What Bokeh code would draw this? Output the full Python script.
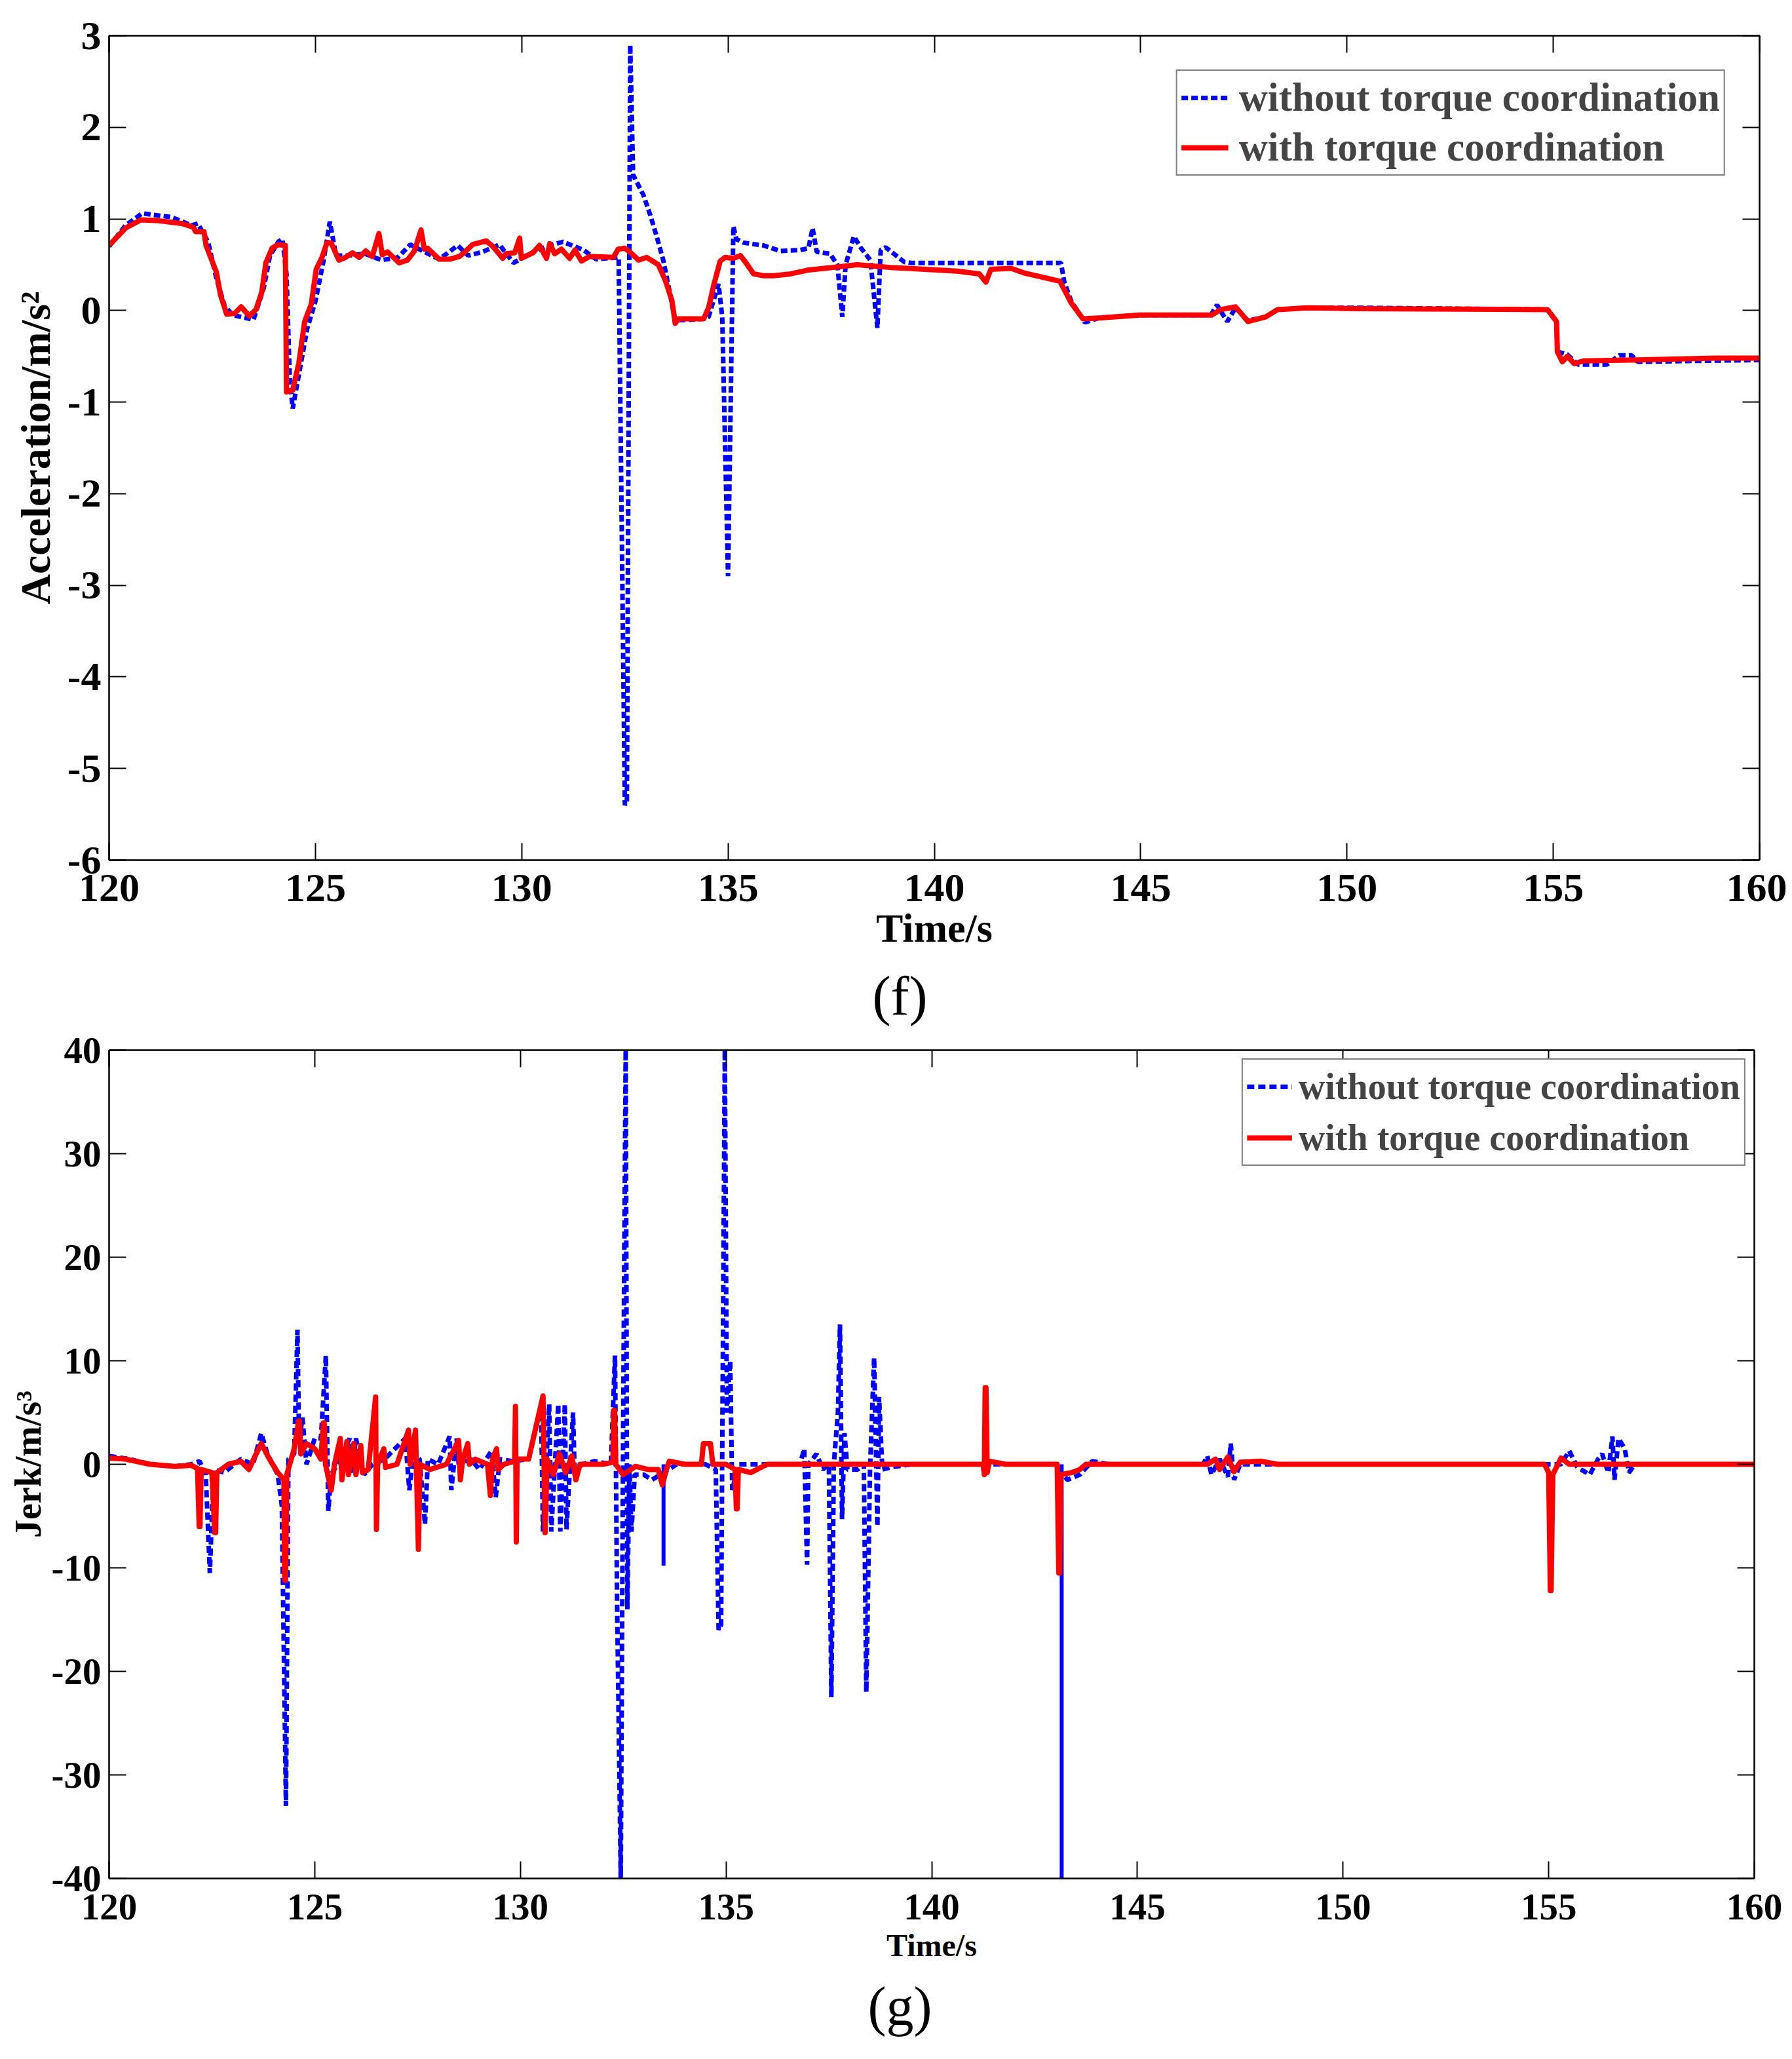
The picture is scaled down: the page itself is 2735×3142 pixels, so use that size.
from bokeh.plotting import figure
from bokeh.models import Range1d, FixedTicker, LinearAxis, CustomJSTickFormatter, Div, Legend
from bokeh.layouts import column
from bokeh.embed import file_html
from bokeh.resources import INLINE

# ---------------- data ----------------
x_ticks = [120, 125, 130, 135, 140, 145, 150, 155, 160]
acc_ticks = [-6, -5, -4, -3, -2, -1, 0, 1, 2, 3]
jerk_ticks = [-40, -30, -20, -10, 0, 10, 20, 30, 40]

series_names = ["without torque coordination", "with torque coordination"]

# acceleration, with torque coordination
acc_red_t = [120.0, 120.4, 120.77, 121.2, 121.76, 122.04, 122.1, 122.3, 122.35, 122.6, 122.7, 122.85, 123.05, 123.2, 123.4, 123.56, 123.7, 123.8, 123.95, 124.1, 124.27, 124.3, 124.45, 124.6, 124.74, 124.9, 125.02, 125.16, 125.28, 125.38, 125.57, 125.73, 125.9, 126.06, 126.22, 126.38, 126.54, 126.62, 126.75, 127.03, 127.23, 127.4, 127.56, 127.64, 127.72, 128.0, 128.25, 128.49, 128.65, 128.81, 129.14, 129.3, 129.54, 129.62, 129.83, 129.95, 129.99, 130.27, 130.43, 130.6, 130.68, 130.8, 130.96, 131.16, 131.29, 131.45, 131.65, 132.22, 132.34, 132.5, 132.67, 132.83, 133.03, 133.31, 133.48, 133.64, 133.72, 133.8, 134.41, 134.53, 134.65, 134.81, 134.93, 135.13, 135.3, 135.42, 135.62, 135.86, 136.11, 136.52, 136.92, 137.33, 138.13, 138.94, 139.35, 140.56, 141.09, 141.25, 141.37, 141.86, 142.18, 142.75, 143.04, 143.16, 143.32, 143.6, 144.05, 144.98, 146.72, 146.94, 147.3, 147.6, 148.03, 148.32, 149.05, 150.21, 154.86, 155.08, 155.1, 155.22, 155.34, 155.51, 155.73, 157.04, 158.93, 160.0]
acc_red_v = [0.71, 0.90, 0.99, 0.98, 0.95, 0.91, 0.86, 0.86, 0.71, 0.42, 0.17, -0.04, -0.03, 0.04, -0.06, 0.01, 0.2, 0.52, 0.68, 0.72, 0.71, -0.89, -0.87, -0.57, -0.12, 0.07, 0.45, 0.58, 0.74, 0.74, 0.55, 0.58, 0.63, 0.58, 0.65, 0.59, 0.84, 0.61, 0.64, 0.52, 0.55, 0.65, 0.88, 0.67, 0.68, 0.56, 0.56, 0.59, 0.65, 0.72, 0.76, 0.70, 0.57, 0.62, 0.63, 0.79, 0.57, 0.63, 0.71, 0.57, 0.73, 0.62, 0.67, 0.57, 0.66, 0.54, 0.59, 0.58, 0.67, 0.68, 0.62, 0.55, 0.58, 0.50, 0.33, 0.11, -0.14, -0.09, -0.09, 0.03, 0.27, 0.54, 0.58, 0.57, 0.60, 0.53, 0.40, 0.38, 0.38, 0.40, 0.44, 0.46, 0.50, 0.47, 0.46, 0.43, 0.40, 0.31, 0.45, 0.46, 0.41, 0.35, 0.32, 0.22, 0.08, -0.09, -0.08, -0.05, -0.05, 0.01, 0.04, -0.12, -0.07, 0.01, 0.03, 0.02, 0.01, -0.12, -0.45, -0.56, -0.50, -0.58, -0.55, -0.54, -0.52, -0.52]

# acceleration, without torque coordination
acc_blue_t = [120.0, 120.4, 120.8, 121.5, 122.0, 122.15, 122.4, 122.6, 122.8, 123.0, 123.3, 123.5, 123.75, 123.9, 124.1, 124.2, 124.3, 124.38, 124.45, 124.6, 124.8, 125.0, 125.2, 125.35, 125.5, 125.8, 126.2, 126.6, 127.0, 127.3, 127.6, 128.0, 128.45, 128.7, 129.05, 129.46, 129.8, 130.2, 130.6, 131.0, 131.5, 131.8, 132.35, 132.5, 132.55, 132.63, 132.7, 132.95, 133.11, 133.27, 133.43, 133.6, 133.72, 134.41, 134.53, 134.69, 134.77, 134.86, 135.0, 135.13, 135.2, 135.38, 135.86, 136.27, 136.75, 136.95, 137.05, 137.15, 137.47, 137.65, 137.77, 137.85, 138.05, 138.21, 138.45, 138.62, 138.7, 138.82, 139.27, 139.43, 143.07, 143.15, 143.32, 143.65, 144.0, 145.0, 146.7, 146.85, 147.1, 147.3, 147.6, 148.03, 148.32, 149.05, 150.3, 154.86, 155.08, 155.1, 155.34, 155.6, 156.3, 156.6, 156.9, 157.05, 160.0]
acc_blue_v = [0.70, 0.93, 1.06, 1.02, 0.93, 0.95, 0.75, 0.35, 0.05, -0.05, -0.08, -0.10, 0.25, 0.60, 0.75, 0.78, 0.40, -0.75, -1.07, -0.70, -0.20, 0.10, 0.55, 0.97, 0.60, 0.60, 0.62, 0.55, 0.58, 0.72, 0.65, 0.56, 0.71, 0.60, 0.64, 0.72, 0.52, 0.62, 0.70, 0.75, 0.66, 0.56, 0.58, -5.40, -5.35, 2.90, 1.48, 1.26, 1.05, 0.81, 0.55, 0.17, -0.11, -0.09, -0.07, 0.17, 0.29, -0.07, -2.90, 0.92, 0.78, 0.74, 0.71, 0.65, 0.66, 0.68, 0.90, 0.64, 0.62, 0.50, -0.07, 0.50, 0.81, 0.69, 0.55, -0.19, 0.66, 0.69, 0.53, 0.52, 0.52, 0.31, 0.10, -0.13, -0.08, -0.05, -0.05, 0.06, -0.12, 0.03, -0.11, -0.07, 0.01, 0.03, 0.03, 0.01, -0.12, -0.45, -0.48, -0.59, -0.59, -0.49, -0.49, -0.56, -0.54]

# jerk, with torque coordination
jerk_red_t = [120.0, 120.4, 121.0, 121.6, 122.0, 122.15, 122.19, 122.21, 122.24, 122.5, 122.57, 122.59, 122.62, 122.9, 123.2, 123.4, 123.55, 123.7, 123.9, 124.1, 124.25, 124.27, 124.29, 124.32, 124.5, 124.61, 124.63, 124.66, 124.8, 125.0, 125.15, 125.21, 125.23, 125.26, 125.4, 125.48, 125.62, 125.66, 125.78, 125.82, 125.95, 126.0, 126.12, 126.16, 126.3, 126.48, 126.5, 126.53, 126.68, 126.72, 127.0, 127.28, 127.32, 127.45, 127.52, 127.56, 127.8, 128.2, 128.5, 128.54, 128.6, 128.72, 128.76, 128.9, 129.2, 129.27, 129.32, 129.42, 129.46, 129.6, 129.86, 129.88, 129.9, 129.92, 130.2, 130.55, 130.6, 130.65, 130.8, 130.95, 131.1, 131.25, 131.35, 131.45, 132.0, 132.25, 132.27, 132.29, 132.32, 132.5, 132.8, 133.1, 133.35, 133.45, 133.55, 133.62, 134.0, 134.4, 134.45, 134.62, 134.68, 135.0, 135.22, 135.25, 135.27, 135.3, 135.6, 136.0, 141.25, 141.28, 141.3, 141.32, 141.35, 141.4, 141.8, 143.05, 143.09, 143.11, 143.14, 143.4, 143.6, 143.75, 146.7, 146.9, 147.0, 147.2, 147.35, 147.5, 148.0, 148.4, 154.9, 155.0, 155.04, 155.06, 155.1, 155.3, 155.5, 160.0]
jerk_red_v = [0.6, 0.5, 0.0, -0.2, -0.1, -0.4, -6.0, -6.0, -0.5, -0.8, -6.6, -6.6, -0.8, 0.0, 0.3, -0.5, 0.8, 2.0, 0.5, -0.8, -1.5, -11.2, -11.2, -1.0, 1.5, 4.2, 4.2, 1.0, 2.0, 1.5, 0.5, 4.0, 4.0, 0.0, -2.5, 0.0, 2.5, -1.5, 2.2, -1.0, 2.0, -1.0, 1.8, -0.8, -0.5, 6.5, -6.3, 0.0, 1.5, -0.3, 0.0, 3.3, 0.0, 3.3, -8.2, 0.0, -0.5, 0.0, 2.3, -1.5, 0.5, 2.0, 0.0, 0.5, 0.0, -3.0, 0.5, 1.5, -0.5, 0.0, 0.3, 5.6, -7.5, 0.5, 0.5, 6.6, -6.6, 0.5, -1.0, 1.0, -0.8, 0.8, -1.5, 0.0, 0.0, 0.2, 5.2, 5.2, 0.0, -1.0, -0.2, -0.5, -0.5, -2.0, -0.5, 0.3, 0.0, 0.0, 2.0, 2.0, 0.0, 0.0, -0.5, -4.3, -4.3, -0.5, -0.8, 0.0, 0.0, -1.0, 7.4, 7.4, -0.8, 0.3, 0.0, 0.0, -10.5, -10.5, -1.0, -0.8, -0.5, 0.0, 0.0, 0.5, -0.5, 0.7, -0.7, 0.2, 0.3, 0.0, 0.0, -0.8, -12.2, -12.2, -1.0, 0.6, 0.0, 0.0]

# jerk, without torque coordination
jerk_blue_t = [120.0, 120.5, 121.0, 121.6, 122.0, 122.2, 122.35, 122.45, 122.5, 122.55, 122.8, 123.2, 123.5, 123.7, 123.85, 124.1, 124.2, 124.3, 124.36, 124.5, 124.58, 124.62, 124.7, 124.8, 125.0, 125.15, 125.27, 125.33, 125.4, 125.55, 125.85, 125.9, 126.0, 126.2, 126.4, 126.7, 127.2, 127.3, 127.4, 127.55, 127.68, 127.75, 128.0, 128.28, 128.32, 128.45, 128.5, 128.8, 129.0, 129.3, 129.4, 129.5, 129.8, 130.2, 130.5, 130.55, 130.7, 130.75, 130.92, 130.97, 131.08, 131.12, 131.28, 131.32, 131.5, 131.8, 132.2, 132.3, 132.35, 132.44, 132.5, 132.56, 132.6, 132.65, 132.7, 132.78, 133.0, 133.2, 133.4, 133.6, 133.8, 134.5, 134.75, 134.82, 134.88, 134.97, 135.02, 135.1, 135.15, 135.3, 136.0, 136.8, 136.9, 136.97, 137.0, 137.2, 137.35, 137.5, 137.56, 137.62, 137.72, 137.77, 137.82, 137.88, 137.95, 138.2, 138.35, 138.41, 138.5, 138.6, 138.68, 138.72, 138.8, 139.0, 139.5, 141.5, 143.0, 143.3, 143.6, 143.9, 144.3, 146.6, 146.7, 146.8, 147.0, 147.2, 147.27, 147.35, 147.5, 155.3, 155.5, 155.7, 156.0, 156.2, 156.3, 156.45, 156.55, 156.6, 156.7, 156.85, 156.95, 157.1, 160.0]
jerk_blue_v = [0.8, 0.5, 0.0, -0.2, 0.0, 0.3, -1.0, -10.5, -5.0, -0.5, -0.8, 0.5, 0.0, 3.0, 1.0, -1.0, -4.0, -33.0, 0.5, 1.0, 13.0, 2.0, 4.5, 0.0, 2.5, 2.5, 10.5, -4.5, -1.0, 0.0, 2.5, -1.0, 2.5, -1.0, 0.0, 0.5, 2.5, -2.5, 1.0, 0.5, -5.8, 0.5, 0.0, 2.7, -2.5, 2.5, 0.0, 0.5, -0.5, 1.3, -3.2, 0.5, 0.3, 0.5, 5.8, -6.5, 5.8, -6.5, 5.8, -6.5, 5.8, -6.3, 5.0, -1.0, 0.0, 0.3, 0.0, 10.5, -13.0, -40.0, 5.0, 40.0, -14.0, 0.0, -6.5, -1.0, -1.0, -1.5, -1.0, -0.5, 0.0, 0.0, -0.5, -16.0, -15.5, 40.0, 5.0, 10.0, -2.5, 0.0, 0.0, 0.0, 1.5, -9.7, 0.0, 1.0, -0.5, 0.0, -22.5, 0.0, 5.0, 13.5, -5.3, 3.0, -0.5, -0.5, 0.0, -22.0, -0.5, 10.3, -6.0, 6.5, -0.5, -0.3, 0.0, 0.0, 0.0, -1.5, -1.0, 0.3, 0.0, 0.0, 0.8, -1.0, 0.5, -1.2, 2.0, -1.5, 0.0, 0.0, 1.3, -0.3, -1.0, 0.5, 1.0, -0.8, 2.7, -1.5, 2.5, 1.5, -0.8, 0.0, 0.0]

# solid-looking spikes of the "without" series
jerk_blue_spike_t = [133.48, 143.16]
jerk_blue_spike_v = [-9.8, -40.0]

# ---------------- styling ----------------
FONT = "Liberation Serif"
RED = "#ff0000"
BLUE = "#0000ff"


def style(p, xt, yt, tick_size, ylab_size, xlab_size, ylab_standoff, xlab_standoff, xtick_standoff):
    p.xgrid.visible = False
    p.ygrid.visible = False
    p.outline_line_color = "black"
    p.outline_line_width = 2
    p.background_fill_color = "white"
    p.border_fill_color = "white"
    for ax in p.xaxis + p.yaxis:
        ax.major_tick_in = 26
        ax.major_tick_out = 0
        ax.minor_tick_line_color = None
        ax.axis_line_width = 2
        ax.major_tick_line_width = 2
        ax.major_label_text_font = FONT
        ax.major_label_text_font_style = "bold"
        ax.major_label_text_font_size = tick_size
        ax.major_label_text_color = "black"
        ax.axis_label_text_font = FONT
        ax.axis_label_text_font_style = "bold"
        ax.axis_label_text_color = "black"
        ax.formatter = CustomJSTickFormatter(code="return tick.toFixed(0)")
    p.xaxis.ticker = FixedTicker(ticks=xt)
    p.yaxis.ticker = FixedTicker(ticks=yt)
    p.xaxis.axis_label_text_font_size = xlab_size
    p.yaxis.axis_label_text_font_size = ylab_size
    p.yaxis.axis_label_standoff = ylab_standoff
    p.xaxis.axis_label_standoff = xlab_standoff
    p.yaxis.major_label_standoff = 12
    p.xaxis.major_label_standoff = xtick_standoff
    for loc, tk in (("right", yt), ("above", xt)):
        ax = LinearAxis(ticker=FixedTicker(ticks=tk),
                        formatter=CustomJSTickFormatter(code="return ''"),
                        major_tick_in=26, major_tick_out=0,
                        minor_tick_line_color=None, axis_line_width=2,
                        major_tick_line_width=2, major_label_text_font_size="0px",
                        major_label_standoff=0, axis_label_standoff=0)
        p.add_layout(ax, loc)


# ---------------- figure (f) ----------------
p1 = figure(frame_width=2519, frame_height=1258, x_range=Range1d(120, 160), y_range=Range1d(-6, 3),
            x_axis_label="Time/s", y_axis_label="Acceleration/m/s²",
            output_backend="svg", toolbar_location=None,
            min_border_left=166, min_border_right=42, min_border_top=54, min_border_bottom=175)
style(p1, x_ticks, acc_ticks, "62px", "64px", "62px", 10, 4, 22)

b1 = p1.line(acc_blue_t, acc_blue_v, line_color=BLUE, line_width=7, line_dash="10 5")
r1 = p1.line(acc_red_t, acc_red_v, line_color=RED, line_width=8, line_join="round")
leg1 = Legend(items=[(series_names[0], [b1]), (series_names[1], [r1])],
              location="top_right", margin=52, padding=6, spacing=6,
              label_height=64, glyph_height=64, glyph_width=72, label_standoff=16,
              label_text_font=FONT, label_text_font_style="bold", label_text_font_size="61px",
              border_line_color="black", border_line_width=2, background_fill_alpha=1.0)
p1.add_layout(leg1)

div_f = Div(text="(f)", width=2727, height=85, margin=(0, 0, 0, 0),
            styles={"font-family": FONT, "font-size": "84px", "line-height": "66px",
                    "text-align": "center", "width": "2747px", "color": "black",
                    "overflow": "visible"})

# ---------------- figure (g) ----------------
p2 = figure(frame_width=2511, frame_height=1264, x_range=Range1d(120, 160), y_range=Range1d(-40, 40),
            x_axis_label="Time/s", y_axis_label="Jerk/m/s³",
            output_backend="svg", toolbar_location=None,
            min_border_left=165, min_border_right=51, min_border_top=30, min_border_bottom=160)
style(p2, x_ticks, jerk_ticks, "57px", "56px", "48px", 2, 10, 24)

b2 = p2.line(jerk_blue_t, jerk_blue_v, line_color=BLUE, line_width=7, line_dash="11 6")
p2.segment(x0=jerk_blue_spike_t, y0=[0.0] * len(jerk_blue_spike_t),
           x1=jerk_blue_spike_t, y1=jerk_blue_spike_v, line_color=BLUE, line_width=6)
r2 = p2.line(jerk_red_t, jerk_red_v, line_color=RED, line_width=8, line_join="round")
leg2 = Legend(items=[(series_names[0], [b2]), (series_names[1], [r2])],
              location="top_right", margin=13, padding=6, spacing=8,
              label_height=70, glyph_height=70, glyph_width=69, label_standoff=10,
              label_text_font=FONT, label_text_font_style="bold", label_text_font_size="56px",
              border_line_color="black", border_line_width=2, background_fill_alpha=1.0)
p2.add_layout(leg2)

div_g = Div(text="(g)", width=2727, height=110, margin=(0, 0, 0, 0),
            styles={"font-family": FONT, "font-size": "84px", "line-height": "72px",
                    "text-align": "center", "width": "2747px", "color": "black",
                    "overflow": "visible"})

layout = column(p1, div_f, p2, div_g, spacing=0)

open("out.html", "w").write(file_html(layout, INLINE))
